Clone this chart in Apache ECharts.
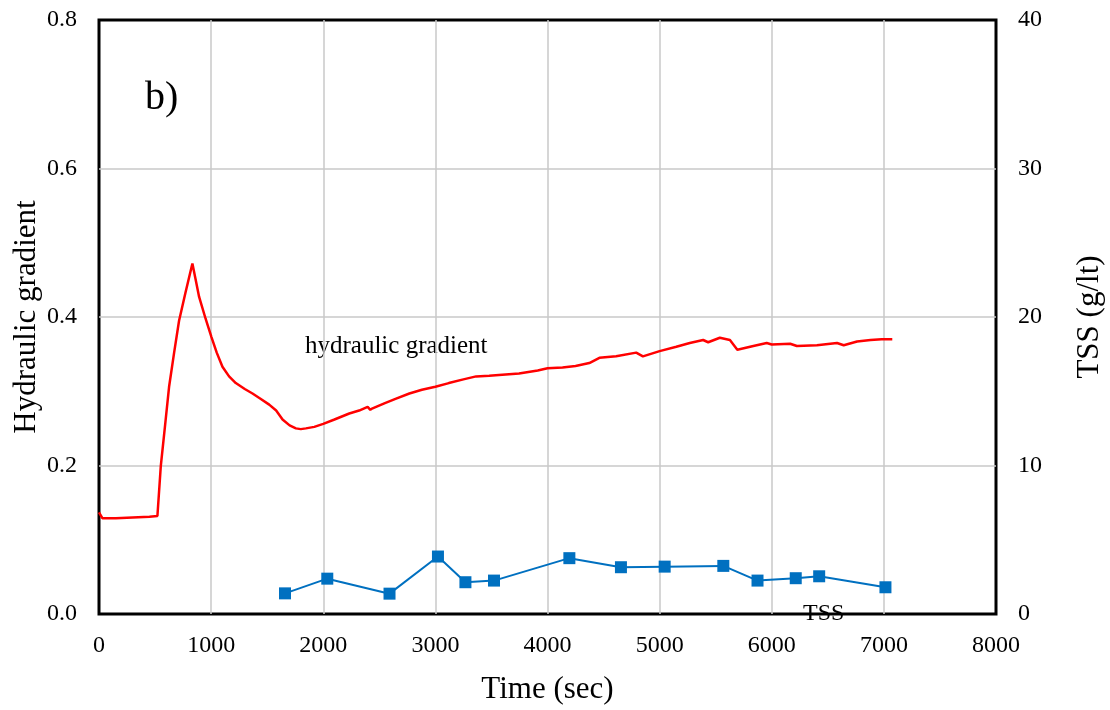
<!DOCTYPE html>
<html>
<head>
<meta charset="utf-8">
<script src="https://cdn.jsdelivr.net/npm/echarts@6/dist/echarts.min.js"></script>
<style>
html, body { margin: 0; padding: 0; background: #fff; }
#chart { width: 1110px; height: 710px; }
</style>
</head>
<body>
<div id="chart"></div>
<script>
// hydraulic gradient trace
var hgTime = [0, 30, 150, 300, 450, 521, 551, 590, 625, 670, 714, 770, 833, 860, 893, 950, 1003, 1050, 1101, 1160, 1220, 1300, 1369, 1440, 1518, 1580, 1637, 1700, 1756, 1800, 1845, 1920, 2000, 2100, 2232, 2320, 2396, 2420, 2440, 2550, 2650, 2768, 2880, 3000, 3120, 3250, 3363, 3480, 3567, 3746, 3913, 4000, 4134, 4250, 4373, 4463, 4612, 4791, 4851, 5000, 5149, 5269, 5388, 5433, 5537, 5627, 5693, 5836, 5955, 6000, 6164, 6224, 6403, 6582, 6642, 6761, 6881, 6980, 7075];
var hgValue = [0.137, 0.129, 0.129, 0.130, 0.131, 0.132, 0.199, 0.255, 0.306, 0.352, 0.395, 0.432, 0.472, 0.452, 0.427, 0.398, 0.373, 0.352, 0.333, 0.320, 0.311, 0.303, 0.297, 0.290, 0.282, 0.274, 0.262, 0.254, 0.250, 0.249, 0.250, 0.252, 0.256, 0.262, 0.270, 0.274, 0.279, 0.275, 0.277, 0.284, 0.290, 0.297, 0.302, 0.306, 0.311, 0.316, 0.320, 0.321, 0.322, 0.324, 0.328, 0.331, 0.332, 0.334, 0.338, 0.345, 0.347, 0.352, 0.347, 0.354, 0.360, 0.365, 0.369, 0.366, 0.372, 0.369, 0.356, 0.361, 0.365, 0.363, 0.364, 0.361, 0.362, 0.365, 0.362, 0.367, 0.369, 0.370, 0.370];

// TSS samples
var tssTime = [1659, 2036, 2591, 3023, 3268, 3523, 4195, 4655, 5045, 5568, 5873, 6214, 6423, 7014];
var tssValue = [1.39, 2.38, 1.37, 3.87, 2.14, 2.25, 3.76, 3.15, 3.19, 3.24, 2.25, 2.41, 2.54, 1.80];

var FONT = '"Liberation Serif", "Times New Roman", serif';

function pairs(xs, ys) {
    return xs.map(function (x, i) { return [x, ys[i]] })
}

var gridLine = { showMinLine: false, showMaxLine: false, lineStyle: { color: '#c8c8c8', width: 1.5 } };
var nameStyle = { fontFamily: FONT, fontSize: 31, color: '#000' };

var myChart = echarts.init(document.getElementById('chart'))
myChart.setOption({
    animation: false,
    backgroundColor: '#fff',
    textStyle: { fontFamily: FONT },
    grid: {
        left: 99, right: 114, top: 20, bottom: 96,
        outerBoundsMode: 'none',
        containLabel: false,
        show: true, borderColor: '#000', borderWidth: 3
    },
    xAxis: {
        type: 'value', min: 0, max: 8000, interval: 1000,
        name: 'Time (sec)', nameLocation: 'middle', nameGap: 60, nameMoveOverlap: false,
        nameTextStyle: nameStyle,
        axisLine: { show: false },
        axisTick: { show: false },
        axisLabel: {
            fontFamily: FONT, fontSize: 24, color: '#000', margin: 20,
            formatter: function (v) { return String(v) }
        },
        splitLine: gridLine
    },
    yAxis: [{
        type: 'value', min: 0, max: 0.8, interval: 0.2,
        name: 'Hydraulic gradient', nameLocation: 'middle', nameGap: 57, nameRotate: 90,
        nameMoveOverlap: false,
        nameTextStyle: nameStyle,
        axisLine: { show: false },
        axisTick: { show: false },
        axisLabel: {
            fontFamily: FONT, fontSize: 24, color: '#000', margin: 22,
            formatter: function (v) { return v.toFixed(1) }
        },
        splitLine: gridLine
    }, {
        type: 'value', min: 0, max: 40, interval: 10, position: 'right',
        name: 'TSS (g/lt)', nameLocation: 'middle', nameGap: 78, nameRotate: 90,
        nameMoveOverlap: false,
        nameTextStyle: nameStyle,
        axisLine: { show: false },
        axisTick: { show: false },
        axisLabel: { fontFamily: FONT, fontSize: 24, color: '#000', margin: 22 },
        splitLine: { show: false }
    }],
    series: [{
        name: 'hydraulic gradient',
        type: 'line',
        yAxisIndex: 0,
        showSymbol: false,
        data: pairs(hgTime, hgValue),
        lineStyle: { color: '#ff0000', width: 2.5 },
        itemStyle: { color: '#ff0000' }
    }, {
        name: 'TSS',
        type: 'line',
        yAxisIndex: 1,
        symbol: 'rect',
        symbolSize: 12,
        data: pairs(tssTime, tssValue),
        lineStyle: { color: '#0070c0', width: 2 },
        itemStyle: { color: '#0070c0' }
    }],
    graphic: [{
        type: 'text', left: 145, top: 78,
        style: { text: 'b)', font: '40px ' + FONT, fill: '#000' }
    }, {
        type: 'text', left: 305, top: 334,
        style: { text: 'hydraulic gradient', font: '25px ' + FONT, fill: '#000' }
    }, {
        type: 'text', left: 803, top: 602,
        style: { text: 'TSS', font: '24px ' + FONT, fill: '#000' }
    }]
})
</script>
</body>
</html>
